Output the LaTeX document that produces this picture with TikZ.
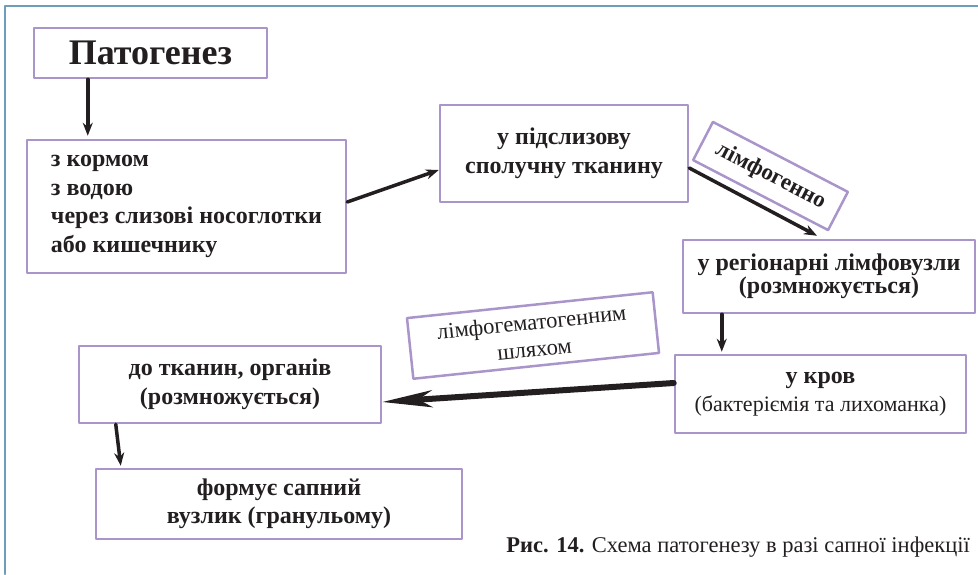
\documentclass[tikz,border=0pt]{standalone}
\usepackage{fontspec}
\setmainfont{Liberation Serif}
\usetikzlibrary{arrows.meta}
\definecolor{boxline}{HTML}{A995CA}
\definecolor{frameline}{HTML}{6E9DB8}
\definecolor{ink}{HTML}{231F20}
\tikzset{
  stage/.style={draw=boxline,line width=2.5pt,text=ink,align=center,inner sep=0pt,font=\fontsize{24}{28.5}\selectfont\bfseries},
  route/.style={stage,font=\fontsize{22.5}{27}\selectfont},
  flow/.style={->,draw=ink,line width=3.5pt},
  bigflow/.style={-{Stealth[length=50pt,width=17pt,inset=14pt]},draw=ink,line width=6pt}
}
\begin{document}
\begin{tikzpicture}[line cap=round,line join=round,>={Stealth[length=13pt,width=10pt]},x=1pt,y=-1pt]
\useasboundingbox (0,0) rectangle (978,574);
\draw [frameline,line width=2.5pt] (5,574) -- (5,6) -- (978,6);
\node[stage,minimum width=233pt,minimum height=50pt,font=\fontsize{36}{40}\selectfont\bfseries] (pat) at (150.5,53) {Патогенез};
\node[stage,minimum width=319pt,minimum height=133pt,align=left] (entry) at (186.5,206.5) {з кормом\\з водою\\через слизові носоглотки\\або кишечнику};
\node[stage,minimum width=248pt,minimum height=97pt] (submuc) at (564,153.5) {у підслизову\\сполучну тканину};
\node[stage,minimum width=292pt,minimum height=73pt] (lymph) at (829,276.5) {у регіонарні лімфовузли\\[-5pt](розмножується)};
\node[stage,minimum width=291pt,minimum height=78pt] (blood) at (820.5,394) {у кров\\{\mdseries\fontsize{22}{27}\selectfont(бактеріємія та лихоманка)}};
\node[stage,minimum width=302pt,minimum height=77pt] (organs) at (230,384.5) {до тканин, органів\\(розмножується)};
\node[stage,minimum width=366pt,minimum height=70pt] (granul) at (279,504) {формує сапний\\вузлик (гранульому)};
\node[stage,minimum width=152pt,minimum height=43pt,rotate=-27.4,font=\fontsize{23}{27}\selectfont\bfseries] (lymphway) at (770.5,176) {лімфогенно};
\node[route,minimum width=247pt,minimum height=61pt,rotate=6] (bloodway) at (533,335.5) {лімфогематогенним\\шляхом};
\draw[flow] ([xshift=55pt]pat.south west) -- ([xshift=62pt,yshift=3pt]entry.north west);
\draw[flow] ([yshift=4.5pt]entry.east) -- ([yshift=-16.5pt]submuc.west);
\draw[flow] ([yshift=-14.5pt]submuc.east) -- ([xshift=-12pt,yshift=3pt]lymph.north);
\draw[flow] ([xshift=40pt]lymph.south west) -- ([xshift=48pt,yshift=2pt]blood.north west);
\draw[bigflow] ([yshift=11pt]blood.west) -- ([yshift=-17.5pt]organs.east);
\draw[flow] ([xshift=38pt]organs.south west) -- ([xshift=26pt,yshift=2pt]granul.north west);
\node[anchor=east,text=ink,inner sep=0pt,font=\fontsize{22.5}{26}\selectfont] (caption) at (970,547) {\textbf{Рис. 14.} Схема патогенезу в разі сапної інфекції};
\end{tikzpicture}
\end{document}
